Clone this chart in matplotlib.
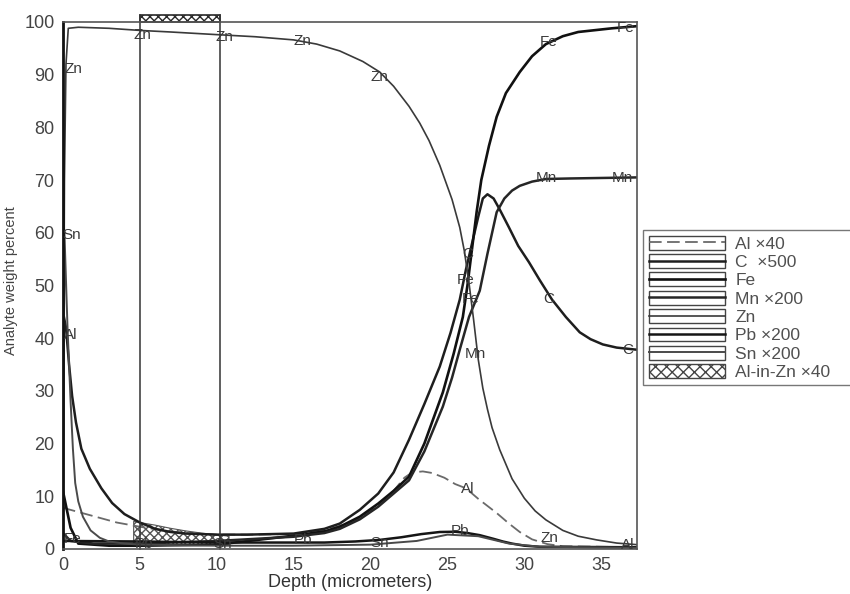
import numpy as np
import matplotlib
matplotlib.use("Agg")
from matplotlib import pyplot as plt
from matplotlib.patches import Patch, Rectangle
from matplotlib.lines import Line2D
from matplotlib.legend_handler import HandlerTuple

plt.rcParams['font.family'] = ['Liberation Sans', 'DejaVu Sans']

# depth profile values (depth in micrometers, weight percent)
zn_x = [0, 0.1, 0.2, 0.35, 1, 3, 5, 7, 10, 12.5, 15, 16.5, 18, 19.5, 20.6, 21.5, 22.5, 23.2, 23.8, 24.5, 25.3,
        25.8, 26.1, 26.4, 26.7, 27.0, 27.3, 27.6, 27.9, 28.4, 29.2, 30, 30.7, 31.4, 32.5, 33.5, 34.7, 36, 37.3]
zn_y = [0, 70, 92, 98.8, 99, 98.8, 98.4, 98.1, 97.6, 97.2, 96.6, 95.8, 94.5, 92.5, 90.5, 87.8, 84, 80.8, 77.5, 72.8, 66.3,
        61, 56.5, 50.5, 43.5, 36, 30.5, 26.5, 23, 18.8, 13.3, 9.6, 7.2, 5.5, 3.5, 2.4, 1.7, 1.1, 0.8]

fe_x = [0, 0.5, 1, 3, 5, 10, 15, 17, 18, 19.3, 20.5, 21.5, 22.5, 23.5, 24.7, 25.4, 26, 26.3, 26.6, 26.9, 27.2,
        27.7, 28.2, 28.8, 29.7, 30.5, 31.4, 32.5, 33.5, 35.7, 37.3]
fe_y = [11, 4, 1, 0.6, 0.6, 0.8, 2.5, 3.3, 4.2, 6.1, 8.6, 11, 13.7, 20, 29.7, 37, 44, 50, 57, 64, 70,
        76.5, 82, 86.5, 90.5, 93.5, 95.8, 97.3, 98.1, 98.8, 99.2]

mn_x = [0, 0.5, 2, 5, 10, 15, 17, 18, 19.3, 20.5, 21.5, 22.5, 23.5, 24.7, 25.3, 25.8, 26.4, 27.1, 27.6, 28.2,
        28.7, 29.2, 29.7, 30.5, 31.4, 33, 37.3]
mn_y = [3, 1.5, 1, 1, 1.5, 2.3, 3, 3.8, 5.6, 8, 10.5, 13, 18.5, 27, 32.5, 37.8, 44, 49, 56, 63.9,
        66.5, 68, 68.9, 69.7, 70.2, 70.3, 70.5]

c_x = [0, 0.2, 0.4, 0.6, 0.85, 1.2, 1.75, 2.5, 3.2, 4, 5, 6, 7, 8, 10, 12, 15, 17, 18, 19.3, 20.5, 21.5, 22.5,
       23.5, 24.5, 25.2, 25.8, 26.2, 26.6, 27, 27.3, 27.6, 28, 28.4, 29, 29.6, 30.3, 31, 31.8, 32.7, 33.6, 34.3,
       35.1, 36, 37.3]
c_y = [45, 42, 35, 29, 24, 19, 15.2, 11.5, 8.7, 6.6, 5, 3.8, 3.2, 2.9, 2.7, 2.7, 2.9, 3.8, 4.8, 7.4, 10.5, 14.5, 20.7,
       27.5, 34.6, 41, 47.3, 53, 58, 63, 66.5, 67.3, 66.5, 64.4, 61, 57.5, 54.4, 51, 47.3, 44, 41.1, 39.8,
       38.8, 38.2, 37.8]

pb_x = [0, 5, 10, 15, 17, 19, 20.6, 22, 23.3, 24.5, 25.5, 26.3, 27.1, 28, 28.6, 29.2, 30, 31, 37.3]
pb_y = [1.5, 1.4, 1.2, 1.2, 1.2, 1.4, 1.7, 2.2, 2.8, 3.2, 3.25, 3.0, 2.6, 1.9, 1.4, 1.0, 0.6, 0.4, 0.3]

sn_x = [0, 0.1, 0.3, 0.5, 0.65, 0.8, 1.0, 1.3, 1.8, 2.4, 3, 4, 5, 10, 15, 20, 23, 25, 27, 29, 31, 37.3]
sn_y = [0, 60, 42, 28, 19, 12.5, 9, 6.1, 3.5, 2.1, 1.4, 1, 0.8, 0.6, 0.6, 0.8, 1.5, 2.7, 2.4, 1, 0.4, 0.2]

al_x = [0, 1, 2, 3.5, 5, 6.5, 8, 10, 12, 15, 17, 18.5, 19.5, 20.5, 21.5, 22.2, 22.7, 23.4, 24, 24.8, 25.5,
        26.2, 27, 28.2, 29, 29.7, 30.5, 31.5, 32.5, 37.3]
al_y = [7.8, 7, 6.2, 5, 4.2, 3.5, 3, 2.7, 2.7, 2.8, 3.5, 4.8, 6.2, 8.3, 11, 13.5, 14.5, 14.7, 14.4, 13.5, 12.3,
        11.5, 9.5, 6.8, 4.8, 3.2, 1.8, 0.9, 0.5, 0.3]

alzn_x = [4.6, 5, 6, 7, 8, 9, 10.2, 10.8]
alzn_y = [5.2, 5.0, 4.5, 3.9, 3.4, 3.0, 2.6, 2.4]
alzn_base = 0.8
region = [5.0, 10.2]

legend_labels = ["Al \u00d740", "C  \u00d7500", "Fe", "Mn \u00d7200", "Zn", "Pb \u00d7200", "Sn \u00d7200", "Al-in-Zn \u00d740"]

# curve tags as printed on the chart
tags = [("Zn", 0.7, 91), ("Sn", 0.6, 59.5), ("Al", 0.5, 40.5), ("Zn", 5.2, 97.6), ("Zn", 10.5, 97.2),
        ("Zn", 15.6, 96.3), ("Zn", 20.6, 89.5), ("Fe", 31.6, 96.2), ("Fe", 36.6, 98.8),
        ("Mn", 31.4, 70.3), ("Mn", 36.4, 70.3), ("C", 31.6, 47.5), ("C", 36.7, 37.8),
        ("C", 26.3, 56), ("Fe", 26.2, 51), ("Fe", 26.5, 47.5), ("Mn", 26.8, 37),
        ("Al", 26.3, 11.4), ("Pb", 15.6, 1.6), ("Sn", 20.6, 1.1), ("Pb", 25.8, 3.3),
        ("Zn", 31.6, 2.0), ("Al", 36.7, 0.8), ("Fe", 0.6, 1.8), ("Pb", 5.3, 1.0), ("Sn", 10.4, 1.0)]

fig = plt.figure(figsize=(8.5, 5.94), dpi=100)
ax = fig.add_axes([0.074, 0.076, 0.675, 0.887])

ink = "#2a2a2a"
al_style = dict(color="#6a6a6a", lw=1.3, dashes=(7, 3))
c_style = dict(color="#1e1e1e", lw=1.8)
fe_style = dict(color="#111111", lw=1.9)
mn_style = dict(color="#262626", lw=1.8)
zn_style = dict(color="#3a3a3a", lw=1.2)
pb_style = dict(color="#151515", lw=1.8)
sn_style = dict(color="#4a4a4a", lw=1.4)

ax.plot(al_x, al_y, **al_style)
ax.plot(c_x, c_y, **c_style)
ax.plot(fe_x, fe_y, **fe_style)
ax.plot(mn_x, mn_y, **mn_style)
ax.plot(zn_x, zn_y, **zn_style)
ax.plot(pb_x, pb_y, **pb_style)
ax.plot(sn_x, sn_y, **sn_style)

ax.fill_between(alzn_x, alzn_base, alzn_y, facecolor="none", edgecolor="#555555", hatch="xxxx", lw=0.8)

# integration window for Al-in-Zn
for xv in region:
    ax.plot([xv, xv], [0, 101.3], color="#333333", lw=1.1, clip_on=False)
ax.add_patch(Rectangle((region[0], 100), region[1] - region[0], 1.3, facecolor="white",
                       edgecolor=ink, hatch="xxxx", lw=1.2, clip_on=False))

for t, xv, yv in tags:
    ax.text(xv, yv, t, fontsize=11, color="#3a3a3a", ha="center", va="center")

ax.set_xlim(0, 37.3)
ax.set_ylim(0, 100)
ax.set_xticks([0, 5, 10, 15, 20, 25, 30, 35])
ax.set_yticks(range(0, 101, 10))
ax.tick_params(length=0, labelsize=13, labelcolor="#444444", pad=6)
ax.set_xlabel("Depth (micrometers)", fontsize=13, color="#333333", labelpad=0)
ax.set_ylabel("Analyte weight percent", fontsize=10.5, color="#444444")
ax.yaxis.set_label_coords(-0.078, 0.51)
for s in ax.spines.values():
    s.set_color("#555555")
    s.set_linewidth(1.2)
ax.spines["left"].set_color("#111111")
ax.spines["left"].set_linewidth(2)

styles = [al_style, c_style, fe_style, mn_style, zn_style, pb_style, sn_style]
handles = []
for st in styles:
    box = Patch(facecolor="white", edgecolor="#444444", lw=1.0)
    ln = Line2D([], [], **st)
    handles.append((box, ln))
handles.append(Patch(facecolor="white", edgecolor="#444444", hatch="xxx", lw=1.0))

leg = fig.legend(handles, legend_labels, loc="upper left", bbox_to_anchor=(0.757, 0.39, 0.3, 0.222),
                 mode="expand", fontsize=12.5, frameon=True, fancybox=False, edgecolor="#555555",
                 handlelength=4.4, handleheight=0.85, handletextpad=0.6, labelspacing=0.14,
                 borderpad=0.3, borderaxespad=0,
                 handler_map={tuple: HandlerTuple(ndivide=1)})
for txt in leg.get_texts():
    txt.set_color("#505050")

fig.savefig("out.png", dpi=100)
